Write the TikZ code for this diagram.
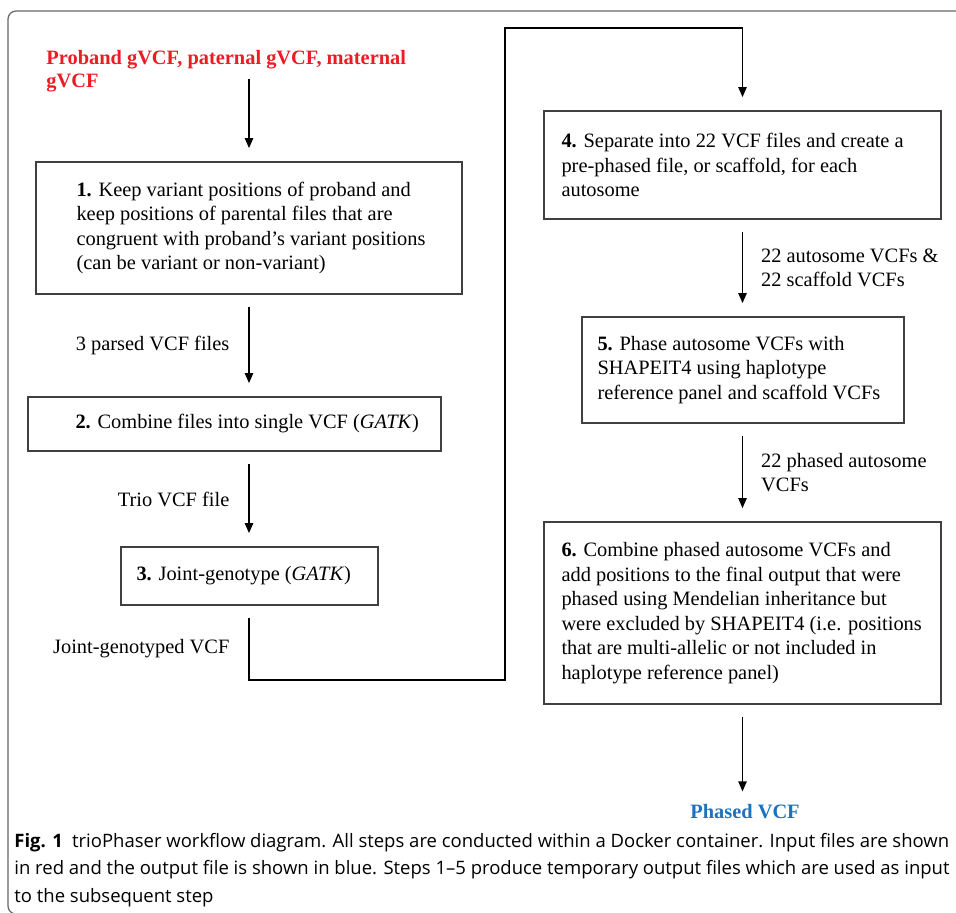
\documentclass[tikz,border=0pt]{standalone}
\usepackage{fontspec}
\setmainfont{Liberation Serif}
\newfontfamily\capfont{Open Sans}
\usetikzlibrary{positioning,arrows.meta}

\definecolor{inred}{RGB}{236,28,36}
\definecolor{outblue}{RGB}{28,114,188}

\begin{document}
\begin{tikzpicture}[x=0.5pt,y=-0.5pt,
        box/.style={draw=black!75,line width=0.9pt,inner sep=0pt},
        txt/.style={align=left,inner sep=0pt,font=\fontsize{10.2pt}{12.25pt}\selectfont},
        flow/.style={line width=0.65pt,-{Triangle[length=5pt,width=4.2pt]},shorten <=6pt,shorten >=6.5pt}]

            \clip (0,0) rectangle (956,913);

            % outer frame of the figure
            \draw[black!60,line width=0.6pt,rounded corners=4pt] (8,11) rectangle (990,914);

            % input files
            \node[txt,font=\fontsize{10.2pt}{11.5pt}\selectfont\bfseries,text=inred,anchor=west] (src) at (46,71.5)
                {Proband gVCF, paternal gVCF, maternal\\gVCF};
            \coordinate (srcend) at (249,79);

            % left column
            \node[box,minimum width=213pt,minimum height=66pt] (b1) at (249,228) {};
            \node[box,minimum width=206.5pt,minimum height=27pt] (b2) at (234.5,424) {};
            \node[box,minimum width=128.5pt,minimum height=29pt] (b3) at (249.5,576) {};

            \node[txt,right=20.5pt of b1.west] (t1) {\textbf{1.} Keep variant positions of proband and\\keep positions of parental files that are\\congruent with proband’s variant positions\\(can be variant or non-variant)};
            \node[txt,right=24pt of b2.west] (t2) {\textbf{2.} Combine files into single VCF (\textit{GATK})};
            \node[txt,right=8pt of b3.west] (t3) {\textbf{3.} Joint-genotype (\textit{GATK})};

            % right column
            \node[box,minimum width=198.5pt,minimum height=54pt] (b4) at (742.5,165) {};
            \node[box,minimum width=161pt,minimum height=53pt] (b5) at (743,370) {};
            \node[box,minimum width=198.5pt,minimum height=91pt] (b6) at (742.5,613) {};

            \node[txt,right=9pt of b4.west] (t4) {\textbf{4.} Separate into 22 VCF files and create a\\pre-phased file, or scaffold, for each\\autosome};
            \node[txt,right=8pt of b5.west] (t5) {\textbf{5.} Phase autosome VCFs with\\SHAPEIT4 using haplotype\\reference panel and scaffold VCFs};
            \node[txt,right=9pt of b6.west] (t6) {\textbf{6.} Combine phased autosome VCFs and\\add positions to the final output that were\\phased using Mendelian inheritance but\\were excluded by SHAPEIT4 (i.e. positions\\that are multi-allelic or not included in\\haplotype reference panel)};

            % output file
            \node[txt,font=\fontsize{10.2pt}{12.25pt}\selectfont\bfseries,text=outblue] (out) at (745,812) {Phased VCF};

            % corner points of the long connector
            \coordinate (jdown) at (249,680);
            \coordinate (jup) at (505,28);

            \draw[flow,shorten <=0pt] (srcend) -- (srcend |- b1.north);
            \draw[flow] (b1.south) -- node[txt,left=9.5pt] {3 parsed VCF files} (b1.south |- b2.north);
            \draw[flow] (b1.south |- b2.south) -- node[txt,left=9.5pt] {Trio VCF file} (b1.south |- b3.north);
            \draw[flow] (b1.south |- b3.south) -- node[txt,left=9.5pt,pos=0.58] {Joint-genotyped VCF} (jdown) -| (jup) -| (b4.north);
            \draw[flow] (b4.south) -- node[txt,right=9pt] {22 autosome VCFs \&\\22 scaffold VCFs} (b4.south |- b5.north);
            \draw[flow] (b4.south |- b5.south) -- node[txt,right=9pt] {22 phased autosome\\VCFs} (b4.south |- b6.north);
            \draw[flow] (b6.south) -- (b6.south |- out.north);

            % caption
            \node[anchor=west,align=left,inner sep=0pt,font=\capfont\fontsize{9.25pt}{13.75pt}\selectfont] (cap) at (14,870)
                {\textbf{Fig. 1}\enspace trioPhaser workflow diagram. All steps are conducted within a Docker container. Input files are shown\\in red and the output file is shown in blue. Steps 1–5 produce temporary output files which are used as input\\to the subsequent step};
        \end{tikzpicture}
\end{document}
